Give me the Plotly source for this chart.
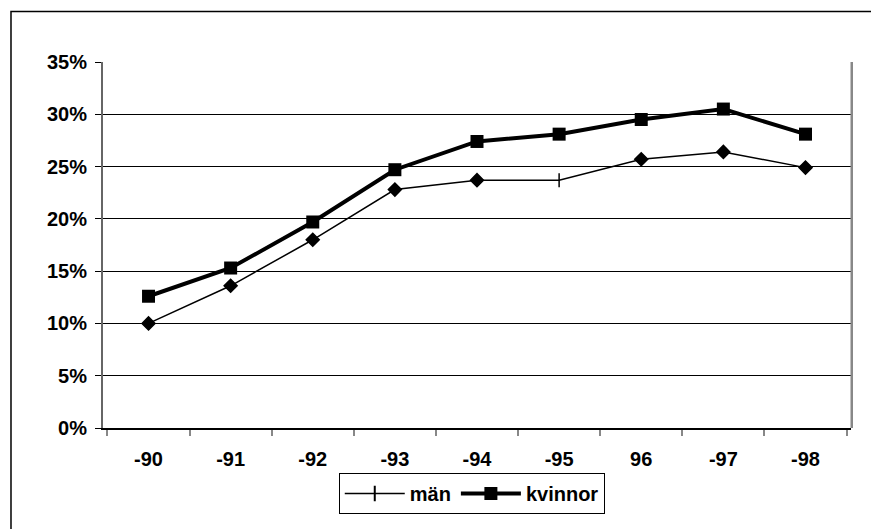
import plotly.graph_objects as go

years = ["-90", "-91", "-92", "-93", "-94", "-95", "96", "-97", "-98"]
man = [10.0, 13.6, 18.0, 22.8, 23.7, 23.7, 25.7, 26.4, 24.9]
kvinnor = [12.6, 15.3, 19.7, 24.7, 27.4, 28.1, 29.5, 30.5, 28.1]
man_symbols = ["diamond", "diamond", "diamond", "diamond", "diamond",
               "line-ns", "diamond", "diamond", "diamond"]
y_ticks = [0, 5, 10, 15, 20, 25, 30, 35]
y_labels = ["0%", "5%", "10%", "15%", "20%", "25%", "30%", "35%"]

FONT = dict(family="Liberation Sans, Arial, sans-serif", size=20, color="black", weight="bold")

fig = go.Figure()

# män data (no legend; legend uses the series' tick marker)
fig.add_trace(go.Scatter(
    x=years, y=man, mode="lines+markers", name="män", showlegend=False,
    line=dict(color="black", width=1.5),
    marker=dict(symbol=man_symbols, size=10, color="black",
                line=dict(color="black", width=1.5)),
))
# legend entry for män
fig.add_trace(go.Scatter(
    x=[None], y=[None], mode="lines+markers", name="män",
    line=dict(color="black", width=1.5),
    marker=dict(symbol="line-ns", size=11, color="black",
                line=dict(color="black", width=2)),
))
fig.add_trace(go.Scatter(
    x=years, y=kvinnor, mode="lines+markers", name="kvinnor",
    line=dict(color="black", width=4),
    marker=dict(symbol="square", size=13, color="black"),
))

fig.update_layout(
    width=871, height=529,
    margin=dict(l=103, r=20, t=61.5, b=101),
    paper_bgcolor="white", plot_bgcolor="white",
    font=FONT,
    showlegend=True,
    legend=dict(
        orientation="h", x=0.493, xanchor="center", y=-0.123, yanchor="top",
        bordercolor="black", borderwidth=1, bgcolor="white",
        font=FONT, itemwidth=60, tracegroupgap=0,
    ),
    xaxis=dict(
        type="category", categoryorder="array", categoryarray=years,
        showgrid=False, showline=True, linecolor="black", linewidth=1.5,
        ticks="outside", tickson="boundaries", ticklen=6, tickcolor="#888",
        tickwidth=1.5, ticklabelstandoff=12, tickfont=FONT,
    ),
    yaxis=dict(
        range=[0, 35], tickvals=y_ticks, ticktext=y_labels,
        showgrid=True, gridcolor="black", gridwidth=1,
        showline=True, linecolor="#666", linewidth=2,
        ticks="outside", ticklen=6, tickcolor="black", tickwidth=1,
        ticklabelstandoff=4,
        zeroline=False, tickfont=FONT,
    ),
    shapes=[
        # right border of plot area
        dict(type="line", xref="paper", yref="paper", x0=1.001, x1=1.001, y0=0, y1=1,
             line=dict(color="#888", width=2.5)),
        # outer chart frame (right/bottom edges lie outside the picture)
        dict(type="rect", xref="paper", yref="paper", x0=-0.123, x1=1.2,
             y0=-0.6, y1=1.1378, line=dict(color="black", width=1.5)),
    ],
)

fig.write_html(
    "out.html",
    config={"displayModeBar": False},
    post_script="document.body.style.margin='0';document.body.style.overflow='hidden';",
)
